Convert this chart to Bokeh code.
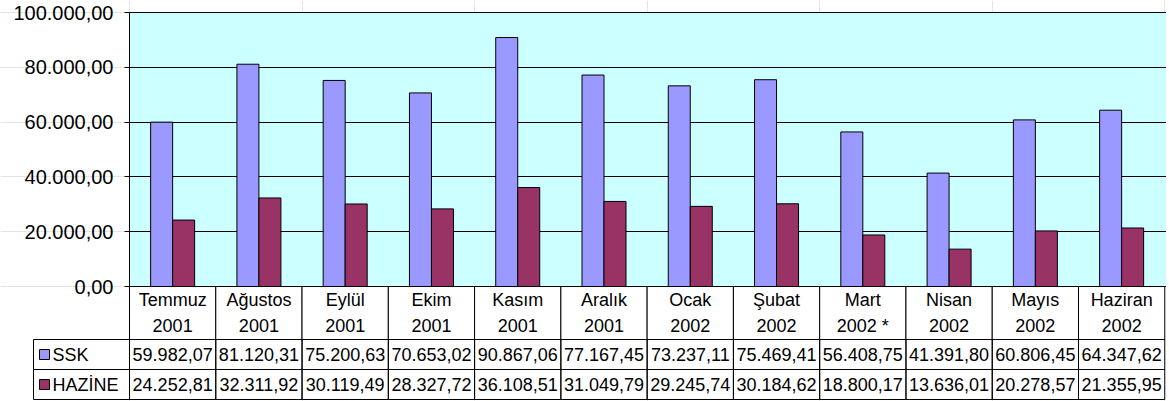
from bokeh.plotting import figure
from bokeh.models import (ColumnDataSource, Range1d, FixedTicker, LinearAxis, Grid,
                          BoxAnnotation, CustomJSTickFormatter)
from bokeh.core.properties import value
from bokeh.embed import file_html
from bokeh.resources import INLINE
import numpy as np

# ---- data ----
months = ["Temmuz", "Ağustos", "Eylül", "Ekim", "Kasım", "Aralık",
          "Ocak", "Şubat", "Mart", "Nisan", "Mayıs", "Haziran"]
years = ["2001", "2001", "2001", "2001", "2001", "2001",
         "2002", "2002", "2002 *", "2002", "2002", "2002"]
ssk = [59982.07, 81120.31, 75200.63, 70653.02, 90867.06, 77167.45,
       73237.11, 75469.41, 56408.75, 41391.80, 60806.45, 64347.62]
hazine = [24252.81, 32311.92, 30119.49, 28327.72, 36108.51, 31049.79,
          29245.74, 30184.62, 18800.17, 13636.01, 20278.57, 21355.95]
series_names = ["SSK", "HAZİNE"]
series_colors = ["#9999FF", "#993366"]
y_ticks = [0, 20000, 40000, 60000, 80000, 100000]
y_tick_labels = ["0,00", "20.000,00", "40.000,00", "60.000,00", "80.000,00", "100.000,00"]


def tr_fmt(v):
    return f"{v:,.2f}".replace(",", "X").replace(".", ",").replace("X", ".")


FONT = value("Liberation Sans")
n = len(months)
idx = np.arange(n)

# ---- layout constants (pixels) ----
W, H = 1166, 401
PLOT_L = 129          # x pixel of the value axis
LEG_L = 33            # left edge of legend column
XEND = n + 0.02
UNIT = (W - PLOT_L) / XEND
XSTART = -PLOT_L / UNIT
LEG_W = (PLOT_L - LEG_L) / UNIT
TOP_LINE, ZERO = 12, 286
HDR_BOT, SSK_BOT, HAZ_BOT = 339, 369, 399
U = 100000 / (ZERO - TOP_LINE)


def ypx(py):
    return (ZERO - py) * U


BAR_W = 0.255

p = figure(width=W, height=H, x_range=Range1d(XSTART, XEND), y_range=Range1d(ypx(H), ypx(0)),
           output_backend="svg", toolbar_location=None, x_axis_location=None, y_axis_location=None,
           min_border_left=0, min_border_right=0, min_border_top=0, min_border_bottom=0)
p.outline_line_color = None
p.background_fill_color = "white"
p.border_fill_color = "white"

# plot area background
p.add_layout(BoxAnnotation(left=0, right=XEND, bottom=0, top=ypx(TOP_LINE), fill_color="#CCFFFF", fill_alpha=1,
                           line_color=None, level="underlay"))
p.add_layout(Grid(dimension=1, ticker=FixedTicker(ticks=y_ticks), grid_line_color="black",
                  grid_line_width=1, cross_bounds=(0, XEND)))

ax = LinearAxis(fixed_location=0, bounds=(0, 100000), ticker=FixedTicker(ticks=y_ticks),
                formatter=CustomJSTickFormatter(args=dict(tvals=y_ticks, tlabels=y_tick_labels), code="""
                    for (let i = 0; i < tvals.length; i++) {
                        if (Math.abs(tvals[i] - tick) < 1e-6) return tlabels[i];
                    }
                    return "";
                """))
ax.axis_line_color = "black"
ax.axis_line_width = 1
ax.major_tick_line_color = "black"
ax.major_tick_out = 5
ax.major_tick_in = 0
ax.minor_tick_line_color = None
ax.major_label_standoff = 11
ax.major_label_text_font = "Liberation Sans"
ax.major_label_text_font_size = "20px"
ax.major_label_text_color = "black"
p.add_layout(ax, "left")

src = ColumnDataSource(dict(xs=idx + 0.5 - BAR_W / 2, xh=idx + 0.5 + BAR_W / 2, ssk=ssk, hazine=hazine))
p.vbar(x="xs", top="ssk", bottom=0, width=BAR_W, source=src,
       fill_color=series_colors[0], line_color="black", line_width=1)
p.vbar(x="xh", top="hazine", bottom=0, width=BAR_W, source=src,
       fill_color=series_colors[1], line_color="black", line_width=1)

# ---- data table ----
headers = [f"{m}\n{y}" for m, y in zip(months, years)]
p.quad(left=idx, right=idx + 1, bottom=ypx(HDR_BOT), top=0, fill_color="white", line_color="black", line_width=1)
p.text(x=idx + 0.5, y=ypx((ZERO + HDR_BOT) / 2), text=headers, text_font=FONT, text_font_size="18px",
       text_align="center", text_baseline="middle", text_line_height=1.28, text_color="black")

row_edges = [(HDR_BOT, SSK_BOT), (SSK_BOT, HAZ_BOT)]
for (t0, t1), vals in zip(row_edges, [ssk, hazine]):
    p.quad(left=idx, right=idx + 1, bottom=ypx(t1), top=ypx(t0),
           fill_color=None, line_color="black", line_width=1)
    p.text(x=idx + 0.5, y=ypx((t0 + t1) / 2), text=[tr_fmt(v) for v in vals], text_font=FONT,
           text_font_size="18px", text_align="center", text_baseline="middle", text_color="black")

# legend column
p.quad(left=-LEG_W, right=0, bottom=[ypx(t1) for t0, t1 in row_edges], top=[ypx(t0) for t0, t1 in row_edges],
       fill_color=None, line_color="black", line_width=1)
row_mid = [ypx((t0 + t1) / 2) for t0, t1 in row_edges]
p.rect(x=-LEG_W + 11 / UNIT, y=row_mid, width=10, height=10, width_units="screen", height_units="screen",
       fill_color=series_colors, line_color="black", line_width=1)
p.text(x=-LEG_W + 19 / UNIT, y=row_mid, text=series_names, text_font=FONT, text_font_size="18px",
       text_align="left", text_baseline="middle", text_color="black")

open("out.html", "w").write(file_html(p, INLINE))
